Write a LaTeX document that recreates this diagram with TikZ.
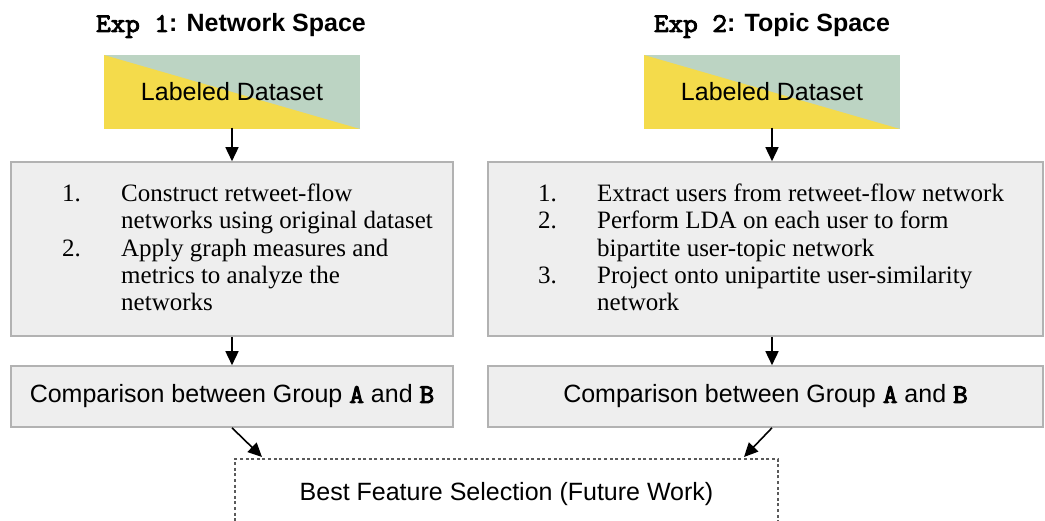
\documentclass[tikz,border=0pt]{standalone}
\usepackage{fontspec}
\setmainfont{Liberation Sans}
\newfontfamily\tmsfont{Liberation Serif}
\newfontfamily\courbold{Latin Modern Mono}[FakeBold=3.5, FakeStretch=1.05, Scale=1.08]
\usetikzlibrary{arrows.meta,calc}
\definecolor{ldyellow}{HTML}{F4DB4B}
\definecolor{ldgreen}{HTML}{BCD4C3}
\definecolor{boxfill}{HTML}{EEEEEE}
\definecolor{boxline}{HTML}{B2B2B2}
\definecolor{dashline}{HTML}{5A5A5A}
\newcommand{\cb}[1]{{\courbold #1}}
\tikzset{
  titletext/.style={anchor=base, inner sep=0pt, font=\fontsize{25}{30}\selectfont\bfseries},
  ldbox/.style={minimum width=256pt, minimum height=74pt, inner sep=0pt,
    font=\fontsize{25}{30}\selectfont,
    path picture={
      \fill[ldgreen] (path picture bounding box.north west) rectangle (path picture bounding box.south east);
      \fill[ldyellow] (path picture bounding box.north west) -- (path picture bounding box.south west) -- (path picture bounding box.south east) -- cycle;
    }},
  graybox/.style={draw=boxline, fill=boxfill, line width=1.6pt, inner sep=0pt},
  steptext/.style={anchor=north west, inner sep=0pt, align=left, font=\tmsfont\fontsize{25}{27.4}\selectfont},
  cmpbox/.style={graybox, minimum height=61pt, font=\fontsize{25}{30}\selectfont},
  fwbox/.style={draw=dashline, line width=1.2pt, dash pattern=on 3pt off 2.6pt, minimum width=543pt, minimum height=70pt, inner sep=0pt, font=\fontsize{25}{30}\selectfont},
  arr/.style={line width=1.6pt, -{Triangle[length=14pt,width=13pt]}}
}
\begin{document}
\begin{tikzpicture}[x=1pt,y=-1pt]
\useasboundingbox (0,0) rectangle (1045,521);
% titles
\node[titletext] (t1title) at (231,32) {\cb{Exp 1}: Network Space};
\node[titletext] (t2title) at (772,32) {\cb{Exp 2}: Topic Space};
% labeled datasets
\node[ldbox] (ld1) at (232,92) {Labeled Dataset};
\node[ldbox] (ld2) at (772,92) {Labeled Dataset};
% step boxes
\node[graybox, minimum width=442pt, minimum height=174pt] (s1) at (232,249) {};
\node[graybox, minimum width=555pt, minimum height=174pt] (s2) at (765.5,249) {};
\node[steptext] (s1text) at (62,182) {%
\begin{tabular}{@{}p{59pt}@{}l@{}}
1. & Construct retweet-flow\\
   & networks using original dataset\\
2. & Apply graph measures and\\
   & metrics to analyze the\\
   & networks
\end{tabular}};
\node[steptext] (s2text) at (538,182) {%
\begin{tabular}{@{}p{59pt}@{}l@{}}
1. & Extract users from retweet-flow network\\
2. & Perform LDA on each user to form\\
   & bipartite user-topic network\\
3. & Project onto unipartite user-similarity\\
   & network
\end{tabular}};
% comparison boxes
\node[cmpbox, minimum width=442pt] (c1) at (232,396.5) {Comparison between Group \cb{A} and \cb{B}};
\node[cmpbox, minimum width=555pt] (c2) at (765.5,396.5) {Comparison between Group \cb{A} and \cb{B}};
% future work
\node[fwbox] (fw) at (506.5,494) {Best Feature Selection (Future Work)};
\coordinate (tip1) at (262,457);
\coordinate (tip2) at (744,457);
% arrows
\draw[arr] ([yshift=1.5pt]ld1.south) -- (s1.north);
\draw[arr] ([yshift=1.5pt]ld2.south) -- (ld2.south |- s2.north);
\draw[arr] (s1.south) -- (c1.north);
\draw[arr] (ld2.south |- s2.south) -- (ld2.south |- c2.north);
\draw[arr] (c1.south) -- (tip1);
\draw[arr] (ld2.south |- c2.south) -- (tip2);
\end{tikzpicture}
\end{document}
